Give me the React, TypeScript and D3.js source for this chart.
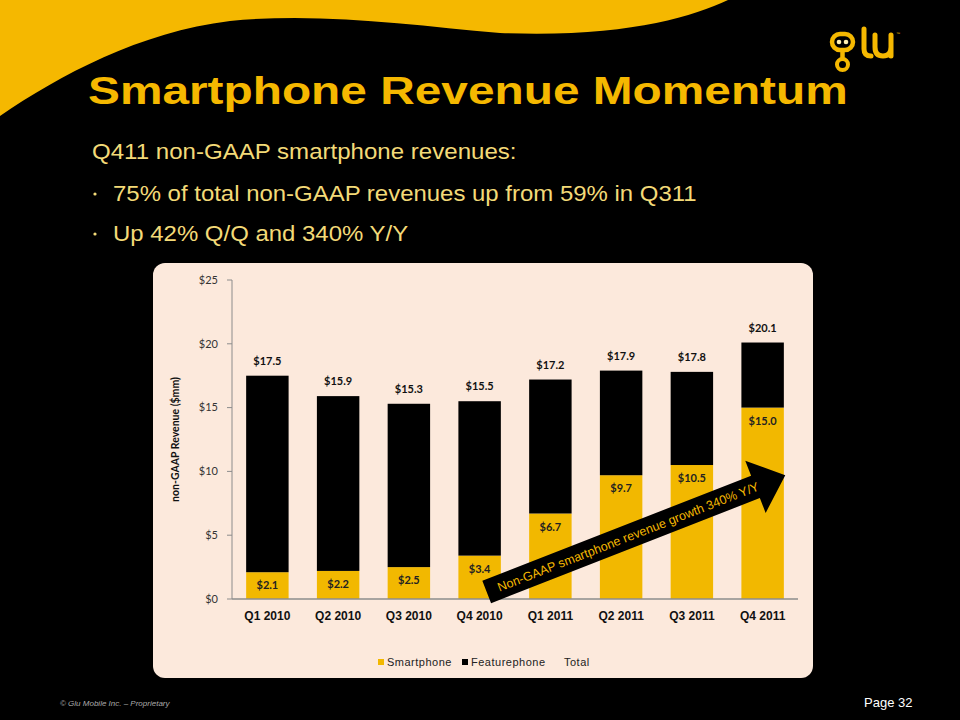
import React from 'react';
import * as d3 from 'd3';

// values ($mm, non-GAAP)
const categories = ['Q1 2010', 'Q2 2010', 'Q3 2010', 'Q4 2010', 'Q1 2011', 'Q2 2011', 'Q3 2011', 'Q4 2011'];
const smartphone = [2.1, 2.2, 2.5, 3.4, 6.7, 9.7, 10.5, 15.0];
const featurephone = [15.4, 13.7, 12.8, 12.1, 10.5, 8.2, 7.3, 5.1];
const totals = [17.5, 15.9, 15.3, 15.5, 17.2, 17.9, 17.8, 20.1];
const yTicks = [0, 5, 10, 15, 20, 25];
const bullets = ['75% of total non-GAAP revenues up from 59% in Q311', 'Up 42% Q/Q and 340% Y/Y'];
const legendItems = [
  { label: 'Smartphone', color: '#F2B800' },
  { label: 'Featurephone', color: '#000000' },
  { label: 'Total', color: null },
];
// growth arrow, anchored to categories / values
const arrowFrom = { cat: 'Q4 2010', at: 0.6, value: 0.55 };
const arrowTo = { cat: 'Q4 2011', at: 0.82, value: 9.7 };
const arrowText = 'Non-GAAP smartphone revenue growth 340% Y/Y';

const YELLOW = '#F5B800';
const TEXT_YELLOW = '#F3DA78';
const BAR_YELLOW = '#F2B800';
const PANEL = '#FCE9DC';
const SANS = 'Arial, "Liberation Sans", sans-serif';
const LABEL_FONT = 'Lato, "Open Sans", sans-serif';

export default function App() {
  const W = 960;
  const H = 720;

  const x = d3.scaleBand<string>()
    .domain(categories)
    .range([232, 798])
    .paddingInner(0.4)
    .paddingOuter(0.2);
  const y = d3.scaleLinear().domain([0, 25]).range([599, 280]);
  const bw = x.bandwidth();
  const step = x.step();

  // arrow geometry
  const ax0 = (x(arrowFrom.cat) as number) - step * 0.2 + step * arrowFrom.at;
  const ay0 = y(arrowFrom.value);
  const ax1 = (x(arrowTo.cat) as number) - step * 0.2 + step * arrowTo.at;
  const ay1 = y(arrowTo.value);
  const len = Math.hypot(ax1 - ax0, ay1 - ay0);
  const ang = (Math.atan2(ay1 - ay0, ax1 - ax0) * 180) / Math.PI;
  const shaftH = 12;
  const headL = 32;
  const headH = 28;
  const arrowPath = d3.path();
  arrowPath.moveTo(0, -shaftH);
  arrowPath.lineTo(len - headL, -shaftH);
  arrowPath.lineTo(len - headL, -headH);
  arrowPath.lineTo(len, 0);
  arrowPath.lineTo(len - headL, headH);
  arrowPath.lineTo(len - headL, shaftH);
  arrowPath.lineTo(0, shaftH);
  arrowPath.closePath();

  return (
    <svg width={W} height={H} style={{ position: 'absolute', left: 0, top: 0, display: 'block' }}>
      <rect width={W} height={H} fill="#000" />
      {/* yellow swoosh */}
      <path
        d="M0,0 H728 C690,18 620,38 500,33 C410,25 320,12 230,21 C140,32 60,75 0,116 Z"
        fill={YELLOW}
      />

      {/* glu logo */}
      <g fill="none" stroke={YELLOW} strokeLinecap="round">
        <rect x={832} y={34} width={21} height={16} rx={8} fill="#000" strokeWidth={4.5} />
        <circle cx={839} cy={42} r={2.3} fill="#FFF0B0" stroke="none" />
        <circle cx={846} cy={42} r={2.3} fill="#FFF0B0" stroke="none" />
        <line x1={842.5} y1={52} x2={842.5} y2={58} strokeWidth={4.5} />
        <circle cx={842.5} cy={64.5} r={5.5} strokeWidth={4} />
        <path d="M864,29 V49 Q864,56 871,56" strokeWidth={5} />
        <path d="M875,35 V47 Q875,56 883,56 Q891,56 891,47 V35 M891,47 V56" strokeWidth={5} />
      </g>
      <text x={896} y={35} fill={YELLOW} fontSize={4} fontFamily={SANS}>™</text>

      {/* title block */}
      <text
        transform="translate(88,104) scale(1.226,1)"
        fill={YELLOW}
        fontFamily={SANS}
        fontWeight="bold"
        fontSize={39}
      >
        Smartphone Revenue Momentum
      </text>
      <text transform="translate(92,159) scale(1.12,1)" fill={TEXT_YELLOW} fontFamily={SANS} fontSize={21.5}>
        Q411 non-GAAP smartphone revenues:
      </text>
      {bullets.map((b, i) => (
        <g key={b}>
          <circle cx={95} cy={194 + i * 40} r={1.6} fill={TEXT_YELLOW} />
          <text
            transform={`translate(113,${200.5 + i * 40}) scale(1.115,1)`}
            fill={TEXT_YELLOW}
            fontFamily={SANS}
            fontSize={21.5}
          >
            {b}
          </text>
        </g>
      ))}

      {/* chart panel */}
      <rect x={153} y={263} width={660} height={415} rx={12} fill={PANEL} />

      {/* y axis */}
      <line x1={232} x2={232} y1={y(25)} y2={y(0)} stroke="#8c8c8c" />
      {yTicks.map((t) => (
        <g key={t}>
          <line x1={227} x2={232} y1={y(t)} y2={y(t)} stroke="#8c8c8c" />
          <text
            x={218}
            y={y(t)}
            dy="0.35em"
            textAnchor="end"
            fontFamily={LABEL_FONT}
            fontSize={11}
            fill="#333"
          >
            ${t}
          </text>
        </g>
      ))}
      <text
        transform={`translate(179,${(y(0) + y(25)) / 2}) rotate(-90)`}
        textAnchor="middle"
        fontFamily={LABEL_FONT}
        fontWeight="bold"
        fontSize={10.5}
        fill="#111"
      >
        non-GAAP Revenue ($mm)
      </text>

      {/* stacked bars */}
      {categories.map((c, i) => {
        const x0 = x(c) as number;
        return (
          <g key={c}>
            <rect x={x0} y={y(smartphone[i])} width={bw} height={y(0) - y(smartphone[i])} fill={BAR_YELLOW} />
            <rect
              x={x0}
              y={y(smartphone[i] + featurephone[i])}
              width={bw}
              height={y(smartphone[i]) - y(smartphone[i] + featurephone[i])}
              fill="#000"
            />
            <text
              x={x0 + bw / 2}
              y={y(smartphone[i]) + 17}
              textAnchor="middle"
              fontFamily={LABEL_FONT}
              fontWeight="bold"
              fontSize={11}
              fill="#222"
            >
              ${smartphone[i].toFixed(1)}
            </text>
            <text
              x={x0 + bw / 2}
              y={y(totals[i]) - 11}
              textAnchor="middle"
              fontFamily={LABEL_FONT}
              fontWeight="bold"
              fontSize={11}
              fill="#111"
            >
              ${totals[i].toFixed(1)}
            </text>
            <text
              x={x0 + bw / 2}
              y={620}
              textAnchor="middle"
              fontFamily={SANS}
              fontWeight="bold"
              fontSize={12}
              fill="#111"
            >
              {c}
            </text>
          </g>
        );
      })}
      <line x1={232} x2={798} y1={y(0)} y2={y(0)} stroke="#8c8c8c" strokeWidth={1.5} />

      {/* growth arrow */}
      <g transform={`translate(${ax0},${ay0}) rotate(${ang})`}>
        <path d={arrowPath.toString()} fill="#000" />
        <text x={12} y={0} dy="0.36em" fontFamily={SANS} fontSize={12.5} fill={YELLOW}>
          {arrowText}
        </text>
      </g>

      {/* legend */}
      {(() => {
        const starts = [378, 462, 564];
        return legendItems.map((l, i) => (
          <g key={l.label}>
            {l.color && <rect x={starts[i]} y={659} width={6} height={6} fill={l.color} />}
            <text
              x={l.color ? starts[i] + 9 : starts[i]}
              y={666}
              fontFamily={SANS}
              fontSize={11}
              letterSpacing={0.5}
              fill="#222"
            >
              {l.label}
            </text>
          </g>
        ));
      })()}

      {/* footer */}
      <text x={60} y={706} fontFamily={SANS} fontStyle="italic" fontSize={8} fill="#aaa">
        © Glu Mobile Inc. – Proprietary
      </text>
      <text x={864} y={707} fontFamily={'"Liberation Sans Narrow", Arial, sans-serif'} fontSize={13} fill="#fff">
        Page 32
      </text>
    </svg>
  );
}
